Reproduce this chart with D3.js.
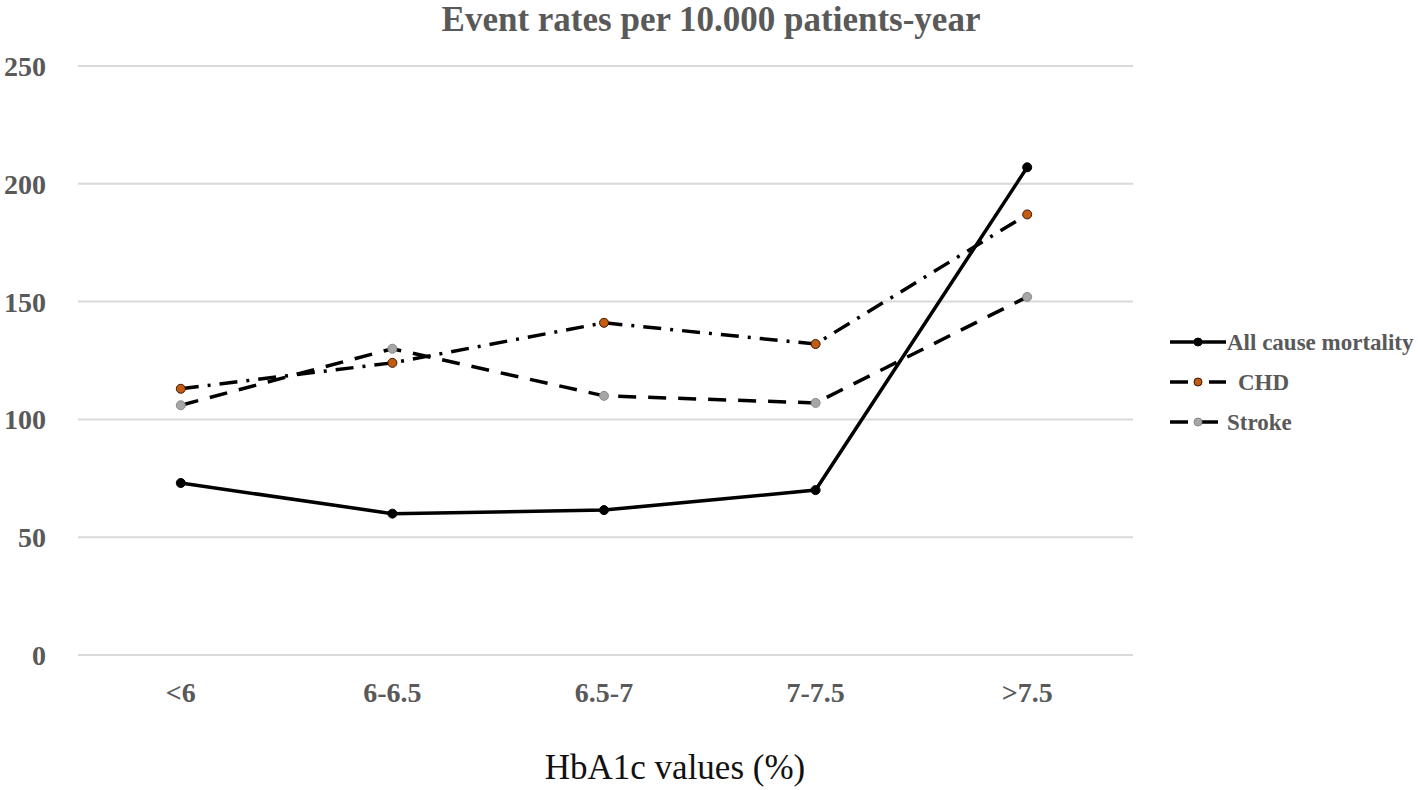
<!DOCTYPE html>
<html>
<head>
<meta charset="utf-8">
<script src="https://cdn.jsdelivr.net/npm/d3@7"></script>
<style>
  body { margin: 0; background: #fff; }
  text { font-family: "Liberation Serif", "Times New Roman", serif; }
</style>
</head>
<body>
<div id="chart"></div>
<script>
// categories and series values
const categories = ['<6', '6-6.5', '6.5-7', '7-7.5', '>7.5'];
const allCause = [73, 60, 61.5, 70, 207];
const chd = [113, 124, 141, 132, 187];
const stroke = [106, 130, 110, 107, 152];
const yTicks = [0, 50, 100, 150, 200, 250];

const width = 1418;
const height = 790;
const margin = {top: 66, right: 285, bottom: 135, left: 75};

const series = [
    {name: 'All cause mortality', values: allCause, dash: null, dot: '#000', dotStroke: '#000'},
    {name: 'CHD', values: chd, dash: '18,9,3,9', dot: '#c55a11', dotStroke: '#3a1a05'},
    {name: 'Stroke', values: stroke, dash: '18,12', dot: '#a6a6a6', dotStroke: '#8a8a8a'}
];

const svg = d3.select('#chart')
    .append('svg')
    .attr('width', width)
    .attr('height', height);

const x = d3.scaleBand()
    .domain(categories)
    .range([margin.left, width - margin.right]);

const y = d3.scaleLinear()
    .domain([0, 250])
    .range([height - margin.bottom, margin.top]);

// gridlines
svg.append('g')
    .selectAll('line')
    .data(yTicks)
    .enter()
    .append('line')
    .attr('x1', margin.left + 3)
    .attr('x2', width - margin.right)
    .attr('y1', d => y(d))
    .attr('y2', d => y(d))
    .style('stroke', '#d9d9d9')
    .style('stroke-width', 2);

// y tick labels
svg.append('g')
    .selectAll('text')
    .data(yTicks)
    .enter()
    .append('text')
    .attr('x', 46)
    .attr('y', d => y(d) + 10)
    .attr('text-anchor', 'end')
    .style('font-size', '28px')
    .style('font-weight', 'bold')
    .style('fill', '#595959')
    .text(d => d);

// x tick labels
svg.append('g')
    .selectAll('text')
    .data(categories)
    .enter()
    .append('text')
    .attr('x', d => x(d) + x.bandwidth() / 2)
    .attr('y', 702)
    .attr('text-anchor', 'middle')
    .style('font-size', '28px')
    .style('font-weight', 'bold')
    .style('fill', '#595959')
    .text(d => d);

// title
svg.append('text')
    .attr('x', 711)
    .attr('y', 31)
    .attr('text-anchor', 'middle')
    .style('font-size', '35px')
    .style('font-weight', 'bold')
    .style('fill', '#595959')
    .text('Event rates per 10.000 patients-year');

// x axis title
svg.append('text')
    .attr('x', 675)
    .attr('y', 779)
    .attr('text-anchor', 'middle')
    .style('font-size', '35px')
    .style('fill', '#111')
    .text('HbA1c values (%)');

const line = d3.line()
    .x((d, i) => x(categories[i]) + x.bandwidth() / 2)
    .y(d => y(d));

// lines, drawn so the solid line sits on top
[series[2], series[1], series[0]].forEach(s => {
    svg.append('path')
        .datum(s.values)
        .attr('d', line)
        .style('fill', 'none')
        .style('stroke', '#000')
        .style('stroke-width', 3.5)
        .style('stroke-dasharray', s.dash);

    svg.append('g')
        .selectAll('circle')
        .data(s.values)
        .enter()
        .append('circle')
        .attr('cx', (d, i) => x(categories[i]) + x.bandwidth() / 2)
        .attr('cy', d => y(d))
        .attr('r', 4.5)
        .style('fill', s.dot)
        .style('stroke', s.dotStroke)
        .style('stroke-width', 1);
});

// legend
const legend = svg.append('g')
    .selectAll('g')
    .data(series)
    .enter()
    .append('g')
    .attr('transform', (d, i) => `translate(1170, ${342 + i * 40})`);

legend.append('line')
    .attr('x1', 0)
    .attr('x2', 56)
    .style('stroke', '#000')
    .style('stroke-width', 3.5)
    .style('stroke-dasharray', (d, i) => i === 0 ? null : (i === 1 ? '18,9,3,9' : '18,12'));

legend.append('circle')
    .attr('cx', 28)
    .attr('r', 4)
    .style('fill', d => d.dot)
    .style('stroke', d => d.dotStroke);

legend.append('text')
    .attr('x', (d, i) => i === 1 ? 68 : 57)
    .attr('y', 8)
    .style('font-size', '23px')
    .style('font-weight', 'bold')
    .style('fill', '#595959')
    .text(d => d.name);
</script>
</body>
</html>
